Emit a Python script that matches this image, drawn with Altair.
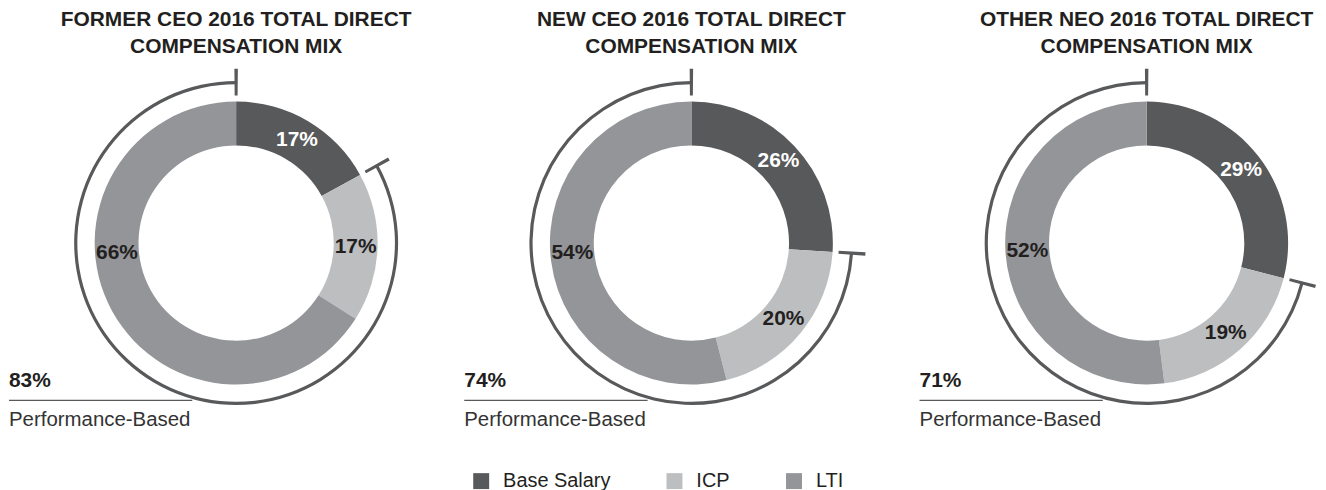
import math
import altair as alt
import pandas as pd

# ---------------- data ----------------
titles = [
    ["FORMER CEO 2016 TOTAL DIRECT", "COMPENSATION MIX"],
    ["NEW CEO 2016 TOTAL DIRECT", "COMPENSATION MIX"],
    ["OTHER NEO 2016 TOTAL DIRECT", "COMPENSATION MIX"],
]
components = ["Base Salary", "ICP", "LTI"]
base_salary = [17, 26, 29]
icp = [17, 20, 19]
lti = [66, 54, 52]
performance_based = [83, 74, 71]
perf_caption = "Performance-Based"
colors = ["#58595b", "#bcbec0", "#939598"]

# ---------------- style / layout ----------------
FONT = "Liberation Sans"
DARK = "#231f20"
LINE = "#58595b"
WIDTHS = [456, 456, 400]
H = 360
CX = 228
R_OUT, R_IN = 142, 98
R_LABEL = 120
R_BR = 161
TICK_IN, TICK_OUT = 148, 175
TWO_PI = 2 * math.pi

legend = alt.Legend(
    orient="none", legendX=464, legendY=409, direction="horizontal",
    title=None, symbolType="square", symbolSize=256, symbolStrokeWidth=0,
    labelFontSize=20, labelFont=FONT, labelColor=DARK, columnPadding=54,
    labelOffset=12, padding=0,
)
color = alt.Color("component:N", scale=alt.Scale(domain=components, range=colors), legend=legend)


def panel(i):
    vals = [base_salary[i], icp[i], lti[i]]
    rows = []
    start = 0.0
    for comp, v in zip(components, vals):
        t0 = start / 100 * TWO_PI
        t1 = (start + v) / 100 * TWO_PI
        mid = (t0 + t1) / 2
        if comp == "LTI":
            mid = max(mid, math.radians(265))
        rows.append(dict(component=comp, value=v, label=f"{v}%", t0=t0, t1=t1, tl=mid))
        start += v
    df = pd.DataFrame(rows)

    donut = alt.Chart(df).mark_arc(radius=R_OUT, radius2=R_IN).encode(
        theta=alt.Theta("t0:Q", scale=None),
        theta2=alt.Theta2("t1:Q"),
        color=color,
        x=alt.value(CX),
    )
    labels = alt.Chart(df).mark_text(
        font=FONT, fontSize=21, fontWeight="bold", align="center", baseline="middle"
    ).encode(
        theta=alt.Theta("tl:Q", scale=None),
        radius=alt.value(R_LABEL),
        text="label:N",
        x=alt.value(CX),
        color=alt.condition(alt.datum.component == "Base Salary", alt.value("white"), alt.value(DARK)),
    )

    a0 = base_salary[i] / 100 * TWO_PI
    br = pd.DataFrame([dict(t0=a0, t1=TWO_PI)])
    bracket = alt.Chart(br).mark_arc(radius=R_BR + 1.6, radius2=R_BR - 1.6, color=LINE).encode(
        theta=alt.Theta("t0:Q", scale=None),
        theta2=alt.Theta2("t1:Q"),
        x=alt.value(CX),
    )
    d = 1.6 / R_BR
    tk = pd.DataFrame([dict(t0=a - d, t1=a + d) for a in (a0, TWO_PI)])
    ticks = alt.Chart(tk).mark_arc(radius=TICK_OUT, radius2=TICK_IN, color=LINE).encode(
        theta=alt.Theta("t0:Q", scale=None),
        theta2=alt.Theta2("t1:Q"),
        x=alt.value(CX),
    )

    txt = pd.DataFrame([dict(pct=f"{performance_based[i]}%", cap=perf_caption)])
    pct = alt.Chart(txt).mark_text(
        font=FONT, fontSize=21, fontWeight="bold", align="left", baseline="alphabetic", color=DARK
    ).encode(x=alt.value(0), y=alt.value(H / 2 + 145), text="pct:N")
    rule = alt.Chart(txt).mark_rule(color=LINE, strokeWidth=1.2).encode(
        x=alt.value(0), x2=alt.value(CX - 44), y=alt.value(H / 2 + 158)
    )
    cap = alt.Chart(txt).mark_text(
        font=FONT, fontSize=20.5, align="left", baseline="alphabetic", color="#333333"
    ).encode(x=alt.value(0), y=alt.value(H / 2 + 184), text="cap:N")

    return alt.layer(donut, labels, bracket, ticks, pct, rule, cap).properties(
        width=WIDTHS[i], height=H,
        title=alt.TitleParams(
            text=titles[i], font=FONT, fontSize=21, fontWeight="bold", color=DARK,
            lineHeight=27, anchor="middle", dx=CX - WIDTHS[i] / 2, offset=7,
        ),
    )


chart = alt.hconcat(*[panel(i) for i in range(3)], spacing=0).properties(
    padding=0
).configure_view(stroke=None)

chart.save("out.html", embed_options={"renderer": "svg", "actions": False})
